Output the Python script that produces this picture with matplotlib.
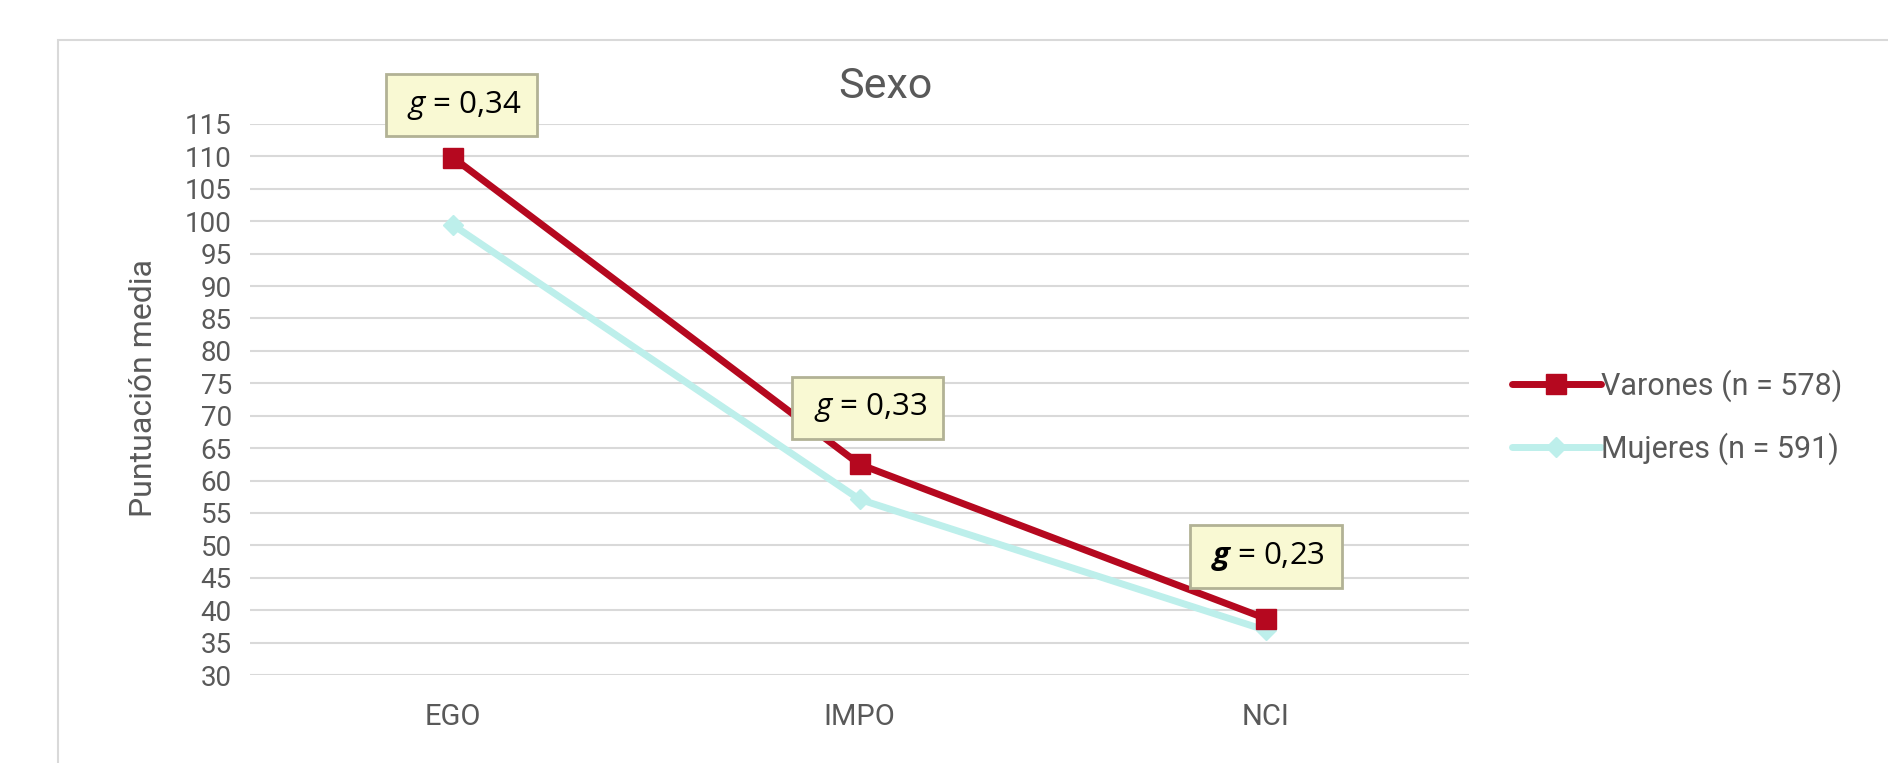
import matplotlib
matplotlib.use("Agg")
import matplotlib.pyplot as plt
from matplotlib.patches import Rectangle

# data
categories = ["EGO", "IMPO", "NCI"]
varones = [109.8, 62.5, 38.7]
mujeres = [99.4, 57.1, 36.9]
series_labels = ["Varones (n = 578)", "Mujeres (n = 591)"]
g_labels = [r" $g$ = 0,34 ", r" $g$ = 0,33 ", r" $\mathbfit{g}$ = 0,23 "]
g_positions = [(0.02, 117.9), (1.02, 71.2), (2.0, 48.3)]
y_ticks = list(range(30, 116, 5))

plt.rcParams["font.family"] = ["Roboto", "DejaVu Sans"]
plt.rcParams["mathtext.fontset"] = "custom"
plt.rcParams["mathtext.rm"] = "Open Sans"
plt.rcParams["mathtext.it"] = "Open Sans:italic"
plt.rcParams["mathtext.bf"] = "Open Sans:bold"
plt.rcParams["mathtext.bfit"] = "Open Sans:italic:bold"

grey = "#595959"
red = "#B5081F"
cyan = "#BDEFEB"

fig = plt.figure(figsize=(18.88, 7.63), dpi=100)
ax = fig.add_axes([250 / 1888, 1 - 675 / 763, 1219 / 1888, 551 / 763])

# outer chart frame (right and bottom edges fall outside the image)
fig.patches.append(Rectangle((58 / 1888, -0.1), 1.2, 1 - 40 / 763 + 0.1,
                             transform=fig.transFigure, fill=False,
                             edgecolor="#D9D9D9", linewidth=1.5))

x = range(len(categories))
ax.plot(x, varones, color=red, linewidth=5, marker="s", markersize=14,
        label=series_labels[0], zorder=4, solid_capstyle="round")
ax.plot(x, mujeres, color=cyan, linewidth=5, marker="D", markersize=10,
        label=series_labels[1], zorder=3, solid_capstyle="round")

ax.set_xlim(-0.5, 2.5)
ax.set_ylim(30, 115)
ax.set_yticks(y_ticks)
ax.set_xticks(list(x))
ax.set_xticklabels(categories)
ax.grid(axis="y", color="#D9D9D9", linewidth=1.5)
ax.set_axisbelow(True)
for s in ax.spines.values():
    s.set_visible(False)
ax.tick_params(length=0, labelcolor=grey)
ax.tick_params(axis="x", pad=20, labelsize=21)
ax.tick_params(axis="y", pad=13, labelsize=20)

fig.text(144 / 1888, 1 - 388 / 763, "Puntuación media", fontsize=23,
         color=grey, rotation=90, ha="center", va="center")
fig.text(885 / 1888, 1 - 87 / 763, "Sexo", fontsize=31, color=grey,
         ha="center", va="center")

for txt, (gx, gy) in zip(g_labels, g_positions):
    ax.text(gx, gy, txt, fontsize=22.5, family="Open Sans", color="black",
            ha="center", va="center", zorder=6, clip_on=False,
            bbox=dict(boxstyle="square,pad=0.47", facecolor="#F9F9D3",
                      edgecolor="#B2B295", linewidth=2))

fig.legend(loc="center left", bbox_to_anchor=(1512 / 1888, 1 - 417 / 763),
           frameon=False, fontsize=22, labelcolor=grey, handlelength=2.9,
           handletextpad=0.0, labelspacing=1.0, borderpad=0,
           borderaxespad=0)

fig.savefig("out.png", dpi=100)
